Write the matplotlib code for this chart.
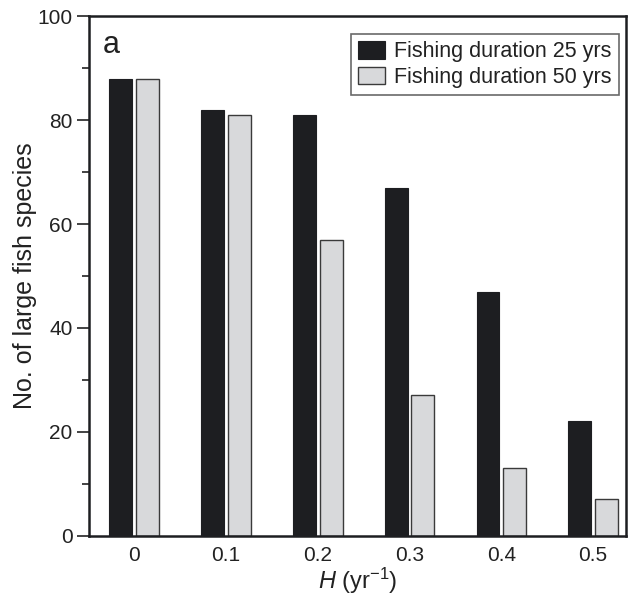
import matplotlib.pyplot as plt
import numpy as np
from matplotlib.ticker import MultipleLocator

plt.rcParams['font.family'] = ['Liberation Sans', 'DejaVu Sans']
plt.rcParams['mathtext.fontset'] = 'custom'
plt.rcParams['mathtext.rm'] = 'Liberation Sans'
plt.rcParams['mathtext.it'] = 'Liberation Sans:italic'

# harvest rate H (per year) and number of large fish species remaining
h_values = [0, 0.1, 0.2, 0.3, 0.4, 0.5]
h_labels = ['0', '0.1', '0.2', '0.3', '0.4', '0.5']
species_25yrs = [88, 82, 81, 67, 47, 22]
species_50yrs = [88, 81, 57, 27, 13, 7]

fig = plt.figure(figsize=(6.37, 5.98), dpi=100)
ax = fig.add_axes([0.140, 0.104, 0.843, 0.869])

x = np.array(h_values)
w = 0.025
off = 0.0145
ax.bar(x - off, species_25yrs, width=w, color='#1d1e21', edgecolor='#1d1e21',
       linewidth=0.8, label='Fishing duration 25 yrs')
ax.bar(x + off, species_50yrs, width=w, color='#d8d9db', edgecolor='#3a3a3a',
       linewidth=1.0, label='Fishing duration 50 yrs')

ax.set_xlim(-0.049, 0.536)
ax.set_ylim(0, 100)
ax.set_xticks(x)
ax.set_xticklabels(h_labels)
ax.set_yticks([0, 20, 40, 60, 80, 100])
ax.yaxis.set_minor_locator(MultipleLocator(10))
ax.tick_params(axis='x', length=0, pad=7, labelsize=15, colors='#222222')
ax.tick_params(axis='y', which='major', length=8.5, width=1.2, pad=3.5,
               labelsize=15, colors='#222222', direction='out')
ax.tick_params(axis='y', which='minor', length=5, width=1.2, color='#222222',
               direction='out')
for s in ax.spines.values():
    s.set_linewidth(1.8)
    s.set_color('#1d1e21')

ax.set_ylabel('No. of large fish species', fontsize=18, color='#222222', labelpad=0)
ax.set_xlabel('$\\mathit{H}$ (yr$^{\u2212\\mathrm{1}}$)', fontsize=17,
              color='#222222', labelpad=1)

ax.text(0.025, 0.945, 'a', transform=ax.transAxes, fontsize=22,
        va='center', ha='left', color='#222222')

leg = ax.legend(loc='upper right', fontsize=15.5, frameon=True, fancybox=False,
                edgecolor='#444444', handlelength=1.25, handleheight=0.85,
                handletextpad=0.4, borderpad=0.35, labelspacing=0.2,
                borderaxespad=0, bbox_to_anchor=(0.986, 0.966))
leg.get_frame().set_linewidth(1.2)
for t in leg.get_texts():
    t.set_color('#222222')

fig.savefig('out.png', dpi=100)
